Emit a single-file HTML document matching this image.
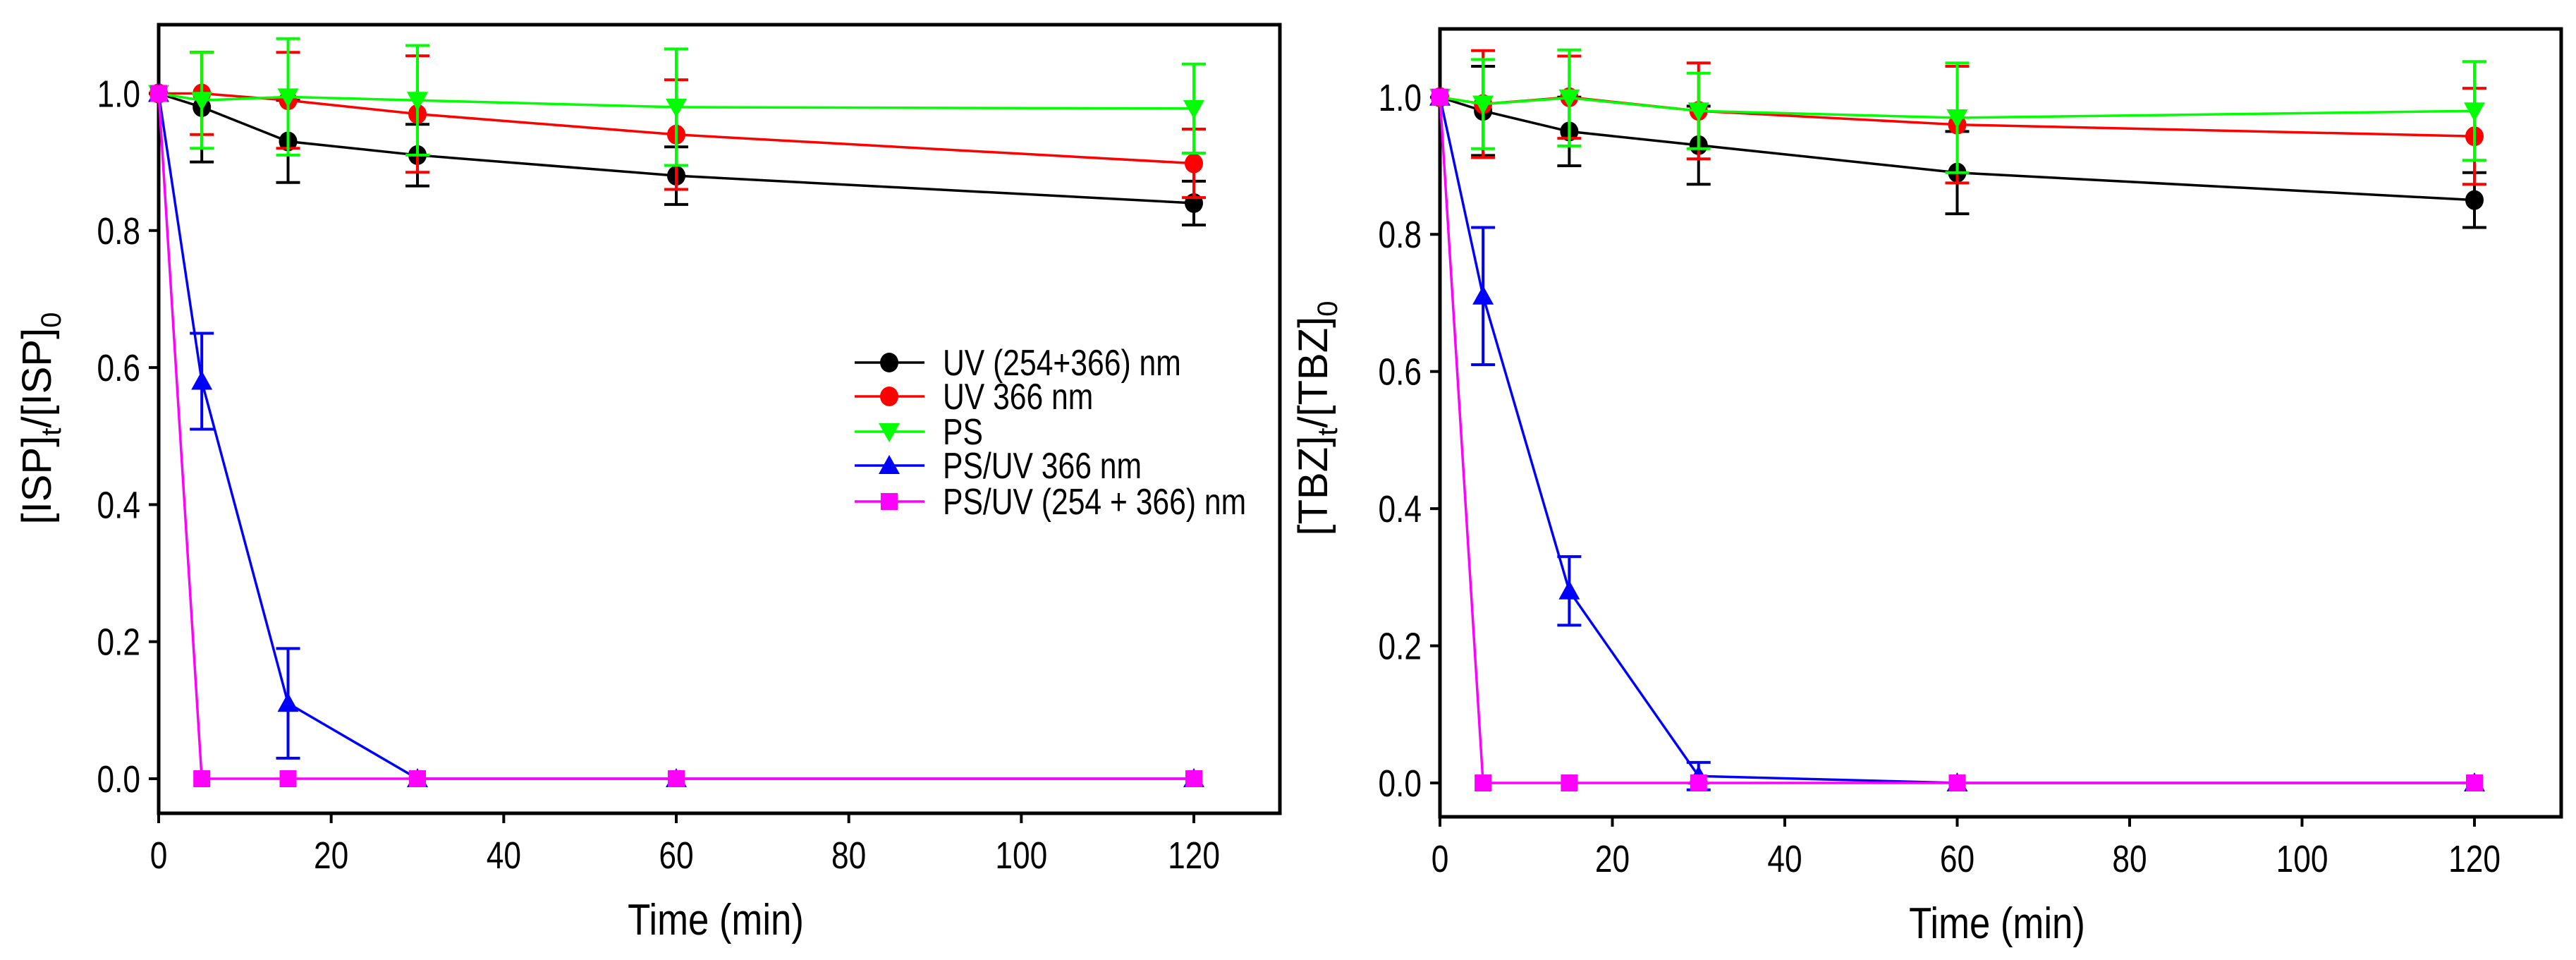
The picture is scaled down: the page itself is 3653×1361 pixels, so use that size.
<!DOCTYPE html>
<html><head><meta charset="utf-8"><style>
html,body{margin:0;padding:0;background:#fff;}
svg{display:block;font-family:"Liberation Sans",sans-serif;}
</style></head><body>
<svg id="chart" width="3653" height="1361" viewBox="0 0 3653 1361" xmlns="http://www.w3.org/2000/svg"></svg>
<script>
const times = [0, 5, 15, 30, 60, 120];
const xTicks = [0, 20, 40, 60, 80, 100, 120];
const yTicks = [0.0, 0.2, 0.4, 0.6, 0.8, 1.0];
const seriesNames = ["UV (254+366) nm", "UV 366 nm", "PS", "PS/UV 366 nm", "PS/UV (254 + 366) nm"];
const seriesColors = ["#000000", "#ff0000", "#00ff00", "#0000ff", "#ff00ff"];
const seriesMarkers = ["circle", "circle", "tri-down", "tri-up", "square"];
// Left panel (ISP)
const ispBlack = [1, 0.98, 0.93, 0.91, 0.88, 0.84];
const ispBlackErr = [0, 0.08, 0.06, 0.045, 0.042, 0.032];
const ispRed = [1, 1.0, 0.99, 0.97, 0.94, 0.898];
const ispRedErr = [0, 0.06, 0.07, 0.085, 0.08, 0.05];
const ispGreen = [1, 0.99, 0.995, 0.99, 0.98, 0.978];
const ispGreenErr = [0, 0.07, 0.085, 0.08, 0.085, 0.065];
const ispBlue = [1, 0.58, 0.11, 0, 0, 0];
const ispBlueErr = [0, 0.07, 0.08, 0, 0, 0];
const ispMagenta = [1, 0, 0, 0, 0, 0];
const ispMagentaErr = [0, 0, 0, 0, 0, 0];
// Right panel (TBZ)
const tbzBlack = [1, 0.98, 0.95, 0.93, 0.89, 0.85];
const tbzBlackErr = [0, 0.065, 0.05, 0.057, 0.06, 0.04];
const tbzRed = [1, 0.99, 1.0, 0.98, 0.96, 0.943];
const tbzRedErr = [0, 0.078, 0.06, 0.07, 0.085, 0.07];
const tbzGreen = [1, 0.99, 0.999, 0.98, 0.97, 0.98];
const tbzGreenErr = [0, 0.065, 0.07, 0.055, 0.08, 0.072];
const tbzBlue = [1, 0.71, 0.28, 0.01, 0, 0];
const tbzBlueErr = [0, 0.1, 0.05, 0.02, 0, 0];
const tbzMagenta = [1, 0, 0, 0, 0, 0];
const tbzMagentaErr = [0, 0, 0, 0, 0, 0];

const NS = "http://www.w3.org/2000/svg";
const svg = document.getElementById("chart");
function mk(tag, attrs, parent) {
  const e = document.createElementNS(NS, tag);
  for (const k in attrs) e.setAttribute(k, attrs[k]);
  (parent || svg).appendChild(e);
  return e;
}
function ntext(parent, x, y, str, size, anchor, sx) {
  const t = mk("text", {transform: `translate(${x},${y}) scale(${sx || 0.82},1)`, "text-anchor": anchor, "font-size": size}, parent);
  t.textContent = str;
  return t;
}

function panel(p) {
  const g = mk("g", {});
  
  
  const X = v => p.x0 + v * (p.x120 - p.x0) / 120;
  const Y = v => p.y0 + v * (p.y1 - p.y0);
  const fr = mk("rect", {x: p.left, y: p.top, width: p.right - p.left, height: p.bottom - p.top, fill: "none", stroke: "#000", "stroke-width": 5}, g);
  
  
  xTicks.forEach(t => {
    mk("line", {x1: X(t), x2: X(t), y1: p.bottom, y2: p.bottom + 14, stroke: "#000", "stroke-width": 4}, g);
    const tx = ntext(g, X(t), p.bottom + 78, String(t), 54, "middle");
    
    
  });
  yTicks.forEach(t => {
    mk("line", {x1: p.left - 14, x2: p.left, y1: Y(t), y2: Y(t), stroke: "#000", "stroke-width": 4}, g);
    const tx = ntext(g, p.left - 26, Y(t) + 19, t.toFixed(1), 54, "end");
    
    
  });
  const xt = ntext(g, (p.left + p.right) / 2 - 5, p.bottom + 172, "Time (min)", 62, "middle", 0.85);
  
  
  const yt = mk("text", {transform: `translate(${p.ytx},${p.yty}) rotate(-90)`, "text-anchor": "middle", "font-size": 58}, g);
  
  
  const parts = [["[" + p.label + "]", 0], ["t", 1], ["/[" + p.label + "]", -1], ["0", 1]];
  let shift = 0;
  parts.forEach(([s, sub]) => {
    const ts = mk("tspan", {}, yt);
    if (sub === 1) { ts.setAttribute("dy", 14 - shift); ts.setAttribute("font-size", 40); shift = 14; }
    else if (sub === -1) { ts.setAttribute("dy", -shift); shift = 0; }
    ts.textContent = s;
  });
  p.series.forEach((s, i) => {
    const sg = mk("g", {}, g);
    
    
    const col = seriesColors[i];
    mk("polyline", {points: times.map((t, j) => X(t) + "," + Y(s.v[j])).join(" "), fill: "none", stroke: col, "stroke-width": 3.5}, sg);
    times.forEach((t, j) => {
      const e = s.e[j];
      if (e > 0) {
        const x = X(t), ya = Y(s.v[j] + e), yb = Y(s.v[j] - e);
        mk("line", {x1: x, x2: x, y1: ya, y2: yb, stroke: col, "stroke-width": 4}, sg);
        mk("line", {x1: x - 17, x2: x + 17, y1: ya, y2: ya, stroke: col, "stroke-width": 4}, sg);
        mk("line", {x1: x - 17, x2: x + 17, y1: yb, y2: yb, stroke: col, "stroke-width": 4}, sg);
      }
    });
    times.forEach((t, j) => {
      const m = marker(seriesMarkers[i], X(t), Y(s.v[j]), col, sg);
      
      
    });
  });
}
function marker(type, x, y, col, parent) {
  const r = 13;
  if (type === "circle") return mk("ellipse", {cx: x, cy: y, rx: r, ry: r + 1, fill: col}, parent);
  if (type === "square") return mk("rect", {x: x - 12, y: y - 12, width: 24, height: 24, fill: col}, parent);
  if (type === "tri-down") return mk("polygon", {points: `${x - 15},${y - 12} ${x + 15},${y - 12} ${x},${y + 15}`, fill: col}, parent);
  return mk("polygon", {points: `${x - 15},${y + 12} ${x + 15},${y + 12} ${x},${y - 15}`, fill: col}, parent);
}

panel({name: "isp-panel", label: "ISP", left: 225, right: 1815, top: 35, bottom: 1153, x0: 225, x120: 1693, y0: 1104, y1: 132.5, ytx: 72, yty: 593,
  series: [{v: ispBlack, e: ispBlackErr}, {v: ispRed, e: ispRedErr}, {v: ispGreen, e: ispGreenErr}, {v: ispBlue, e: ispBlueErr}, {v: ispMagenta, e: ispMagentaErr}]});
panel({name: "tbz-panel", label: "TBZ", left: 2042, right: 3632, top: 41, bottom: 1158, x0: 2042, x120: 3509, y0: 1110, y1: 137.8, ytx: 1882, yty: 593,
  series: [{v: tbzBlack, e: tbzBlackErr}, {v: tbzRed, e: tbzRedErr}, {v: tbzGreen, e: tbzGreenErr}, {v: tbzBlue, e: tbzBlueErr}, {v: tbzMagenta, e: tbzMagentaErr}]});

const lg = mk("g", {});


const legendY = [514, 562, 612, 660, 711];
seriesNames.forEach((n, i) => {
  const eg = mk("g", {}, lg);
  
  
  mk("line", {x1: 1212, x2: 1311, y1: legendY[i], y2: legendY[i], stroke: seriesColors[i], "stroke-width": 3.5}, eg);
  marker(seriesMarkers[i], 1261, legendY[i], seriesColors[i], eg);
  ntext(eg, 1337, legendY[i] + 18, n, 52, "start");
});
</script>
</body></html>
